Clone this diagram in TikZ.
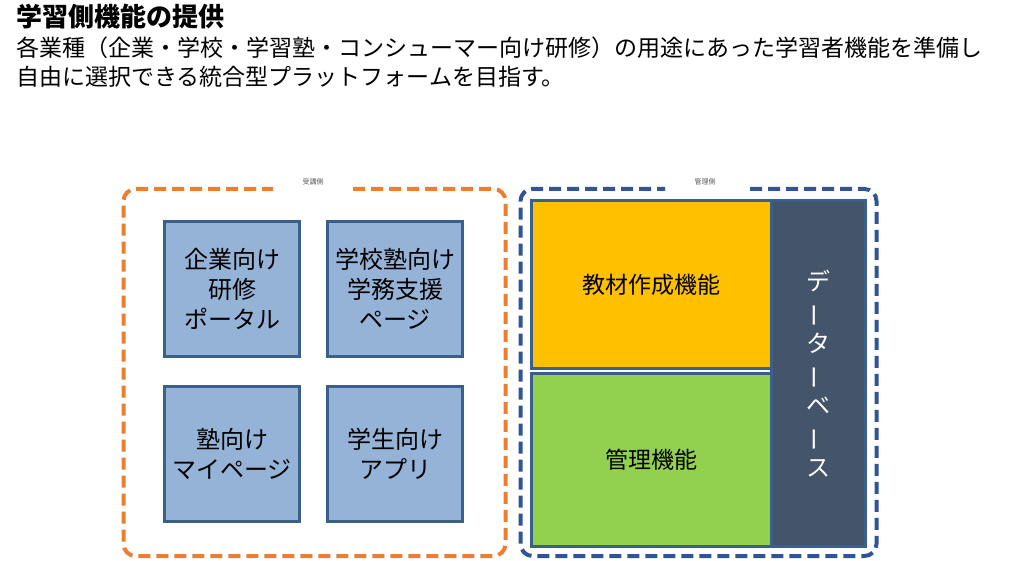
\documentclass[tikz,border=0pt]{standalone}
\usepackage{fontspec}
\setmainfont{Noto Sans CJK JP}
\definecolor{orangeD}{HTML}{ED7D31}
\definecolor{blueD}{HTML}{2F5597}
\definecolor{boxB}{HTML}{3A5F8B}
\definecolor{boxF}{HTML}{95B3D7}
\definecolor{yel}{HTML}{FFC000}
\definecolor{grn}{HTML}{92D050}
\definecolor{dbF}{HTML}{44546A}
\definecolor{lbl}{HTML}{595959}
\begin{document}
\begin{tikzpicture}[x=1pt,y=-1pt,
  frame/.style={line width=4pt, dash pattern=on 12pt off 6pt, rounded corners=12pt},
  fbox/.style={draw=boxB, fill=boxF, line width=3pt, minimum width=135pt, minimum height=135pt,
    inner sep=0pt, align=center, font=\fontsize{24}{30}\selectfont},
  rbox/.style={draw=boxB, line width=3pt, inner sep=0pt, align=center, font=\fontsize{23}{28}\selectfont},
  small/.style={font=\fontsize{7}{8}\selectfont, text=lbl, inner sep=0pt}
]
\useasboundingbox[fill=white] (0,0) rectangle (1034,561);

% header texts
\node[anchor=west, inner sep=0pt, font=\fontsize{26}{30}\selectfont\bfseries] (title) at (16,16.5) {学習側機能の提供};
\node[anchor=west, inner sep=0pt, align=left, font=\fontsize{23}{28.5}\selectfont] (body) at (16,62)
  {各業種（企業・学校・学習塾・コンシューマー向け研修）の用途にあった学習者機能を準備し\\自由に選択できる統合型プラットフォームを目指す。};

% left frame (learner side)
\draw[frame, draw=orangeD] (353,189) -- (505.5,189) -- (505.5,556) -- (123.5,556) -- (123.5,189) -- (273,189);
\node[small] (lbl1) at (313,181.5) {受講側};

\node[fbox] (b1) at (232,289) {企業向け\\研修\\ポータル};
\node[fbox] (b2) at (395,289) {学校塾向け\\学務支援\\ページ};
\node[fbox] (b3) at (232,454) {塾向け\\マイページ};
\node[fbox] (b4) at (395,454) {学生向け\\アプリ};

% right frame (admin side)
\draw[frame, draw=blueD] (750,189) -- (876.5,189) -- (876.5,556) -- (520.5,556) -- (520.5,189) -- (665,189);
\node[small] (lbl2) at (705,181.5) {管理側};

\node[rbox, fill=yel, minimum width=239.5pt, minimum height=168pt] (mat) at (651.25,284.5) {教材作成機能};
\node[rbox, fill=grn, minimum width=239.5pt, minimum height=172pt] (mgmt) at (651.25,460) {管理機能};
\node[rbox, fill=dbF, text=white, minimum width=94pt, minimum height=345.5pt,
  font=\fontsize{24}{31}\selectfont] (db) at (818,373.25)
  {デ\\\rotatebox[origin=c]{90}{ー}\\タ\\\rotatebox[origin=c]{90}{ー}\\ベ\\\rotatebox[origin=c]{90}{ー}\\ス};
\end{tikzpicture}
\end{document}
